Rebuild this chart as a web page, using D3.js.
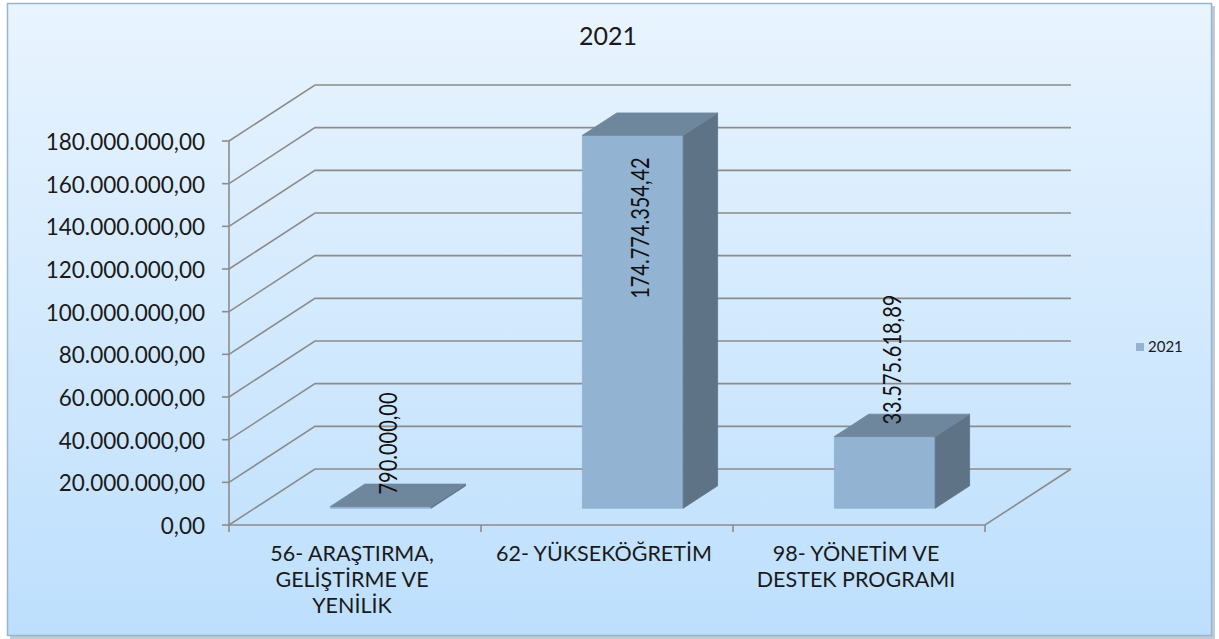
<!DOCTYPE html>
<html>
<head>
<meta charset="utf-8">
<script src="https://cdn.jsdelivr.net/npm/d3@7"></script>
<style>
  html, body { margin: 0; padding: 0; background: #ffffff; }
  svg { display: block; }
</style>
</head>
<body>
<div id="chart"></div>
<script>
// ------------------------------------------------------
// DATA
// ------------------------------------------------------

var chartTitle = "2021";
var seriesName = "2021";
var categories = [
    "56- ARAŞTIRMA,\nGELİŞTİRME VE\nYENİLİK",
    "62- YÜKSEKÖĞRETİM",
    "98- YÖNETİM VE\nDESTEK PROGRAMI"
];
var values = [790000.00, 174774354.42, 33575618.89];
var tickValues = [0, 20000000, 40000000, 60000000, 80000000, 100000000, 120000000, 140000000, 160000000, 180000000];

// ------------------------------------------------------
// LAYOUT
// ------------------------------------------------------

var W = 1219, H = 639;
var plotLeft = 229, plotRight = 985, plotBottom = 525, plotTop = 141;
var depthX = 86, depthY = -56;      // back wall offset
var barFront = 0.3, barBack = 0.7;  // bar depth as fraction of floor
var calibri = "Lato, 'Open Sans', sans-serif";

var tr = d3.formatLocale({decimal: ",", thousands: ".", grouping: [3], currency: ["", ""]});
var fmt = tr.format(",.2f");

var svg = d3.select("#chart").append("svg")
    .attr("width", W)
    .attr("height", H);

var defs = svg.append("defs");
var grad = defs.append("linearGradient")
    .attr("id", "bg")
    .attr("x1", 0).attr("y1", 0).attr("x2", 0).attr("y2", 1);
grad.append("stop").attr("offset", "0%").attr("stop-color", "#e9f4fe");
grad.append("stop").attr("offset", "100%").attr("stop-color", "#bddffd");

// frame + shadow
svg.append("rect")
    .attr("x", 10).attr("y", 6)
    .attr("width", 1205).attr("height", 633)
    .attr("fill", "#9aa9b6").attr("opacity", 0.6);
svg.append("rect")
    .attr("x", 7.5).attr("y", 3.5)
    .attr("width", 1204).attr("height", 632)
    .attr("fill", "url(#bg)")
    .attr("stroke", "#96b5cf")
    .attr("stroke-width", 1.5);

var x = d3.scaleBand().domain(categories).range([plotLeft, plotRight]);
var y = d3.scaleLinear().domain([0, 180000000]).range([plotBottom, plotTop]);

function proj(px, v, f) {
    return [px + depthX * f, y(v) + depthY * f];
}

// ------------------------------------------------------
// WALLS / GRIDLINES
// ------------------------------------------------------

var grid = svg.append("g")
    .attr("fill", "none")
    .attr("stroke", "#8c8c8c")
    .attr("stroke-width", 1.6);

tickValues.forEach(function (v) {
    var pts = [proj(plotLeft, v, 0), proj(plotLeft, v, 1), proj(plotRight, v, 1)];
    grid.append("path").attr("d", d3.line()(pts));
});

// floor front + right edge
grid.append("path").attr("d", d3.line()([proj(plotLeft, 0, 0), proj(plotRight, 0, 0), proj(plotRight, 0, 1)]));
// value axis
grid.append("path").attr("d", d3.line()([proj(plotLeft, 0, 0), proj(plotLeft, 180000000, 0)]));

// tick marks
tickValues.forEach(function (v) {
    grid.append("path").attr("d", d3.line()([[plotLeft - 7, y(v)], [plotLeft, y(v)]]));
});
var catEdges = categories.map(function (c) { return x(c); }).concat([plotRight]);
catEdges.forEach(function (e) {
    grid.append("path").attr("d", d3.line()([[e, plotBottom], [e, plotBottom + 7]]));
});

// tick labels
svg.append("g").selectAll("text")
    .data(tickValues)
    .join("text")
    .attr("x", plotLeft - 24)
    .attr("y", function (d) { return y(d) + 9; })
    .attr("text-anchor", "end")
    .attr("font-family", calibri)
    .attr("font-size", 22.5)
    .attr("fill", "#1a1a1a")
    .text(function (d) { return fmt(d); });

// category labels
var catG = svg.append("g");
categories.forEach(function (c) {
    var lines = c.split("\n");
    var t = catG.append("text")
        .attr("text-anchor", "middle")
        .attr("font-family", calibri)
        .attr("font-size", 21.5)
        .attr("fill", "#1a1a1a");
    lines.forEach(function (ln, i) {
        t.append("tspan")
            .attr("x", x(c) + x.bandwidth() / 2 - 3)
            .attr("y", 561 + i * 26)
            .text(ln);
    });
});

// ------------------------------------------------------
// BARS
// ------------------------------------------------------

var barW = x.bandwidth() * 0.4;
var bars = svg.append("g");

categories.forEach(function (c, i) {
    var v = values[i];
    var x0 = x(c) + (x.bandwidth() - barW) / 2;
    var x1 = x0 + barW;
    var fl0 = proj(x0, 0, barFront), fr0 = proj(x1, 0, barFront);
    var flT = proj(x0, v, barFront), frT = proj(x1, v, barFront);
    var brT = proj(x1, v, barBack), blT = proj(x0, v, barBack);
    var br0 = proj(x1, 0, barBack);

    bars.append("path")
        .attr("d", d3.line()([fl0, fr0, frT, flT]) + "Z")
        .attr("fill", "#93b3d3")
        .attr("stroke", "#8fb0cf").attr("stroke-width", 0.8);
    bars.append("path")
        .attr("d", d3.line()([fr0, br0, brT, frT]) + "Z")
        .attr("fill", "#5e7386")
        .attr("stroke", "#5e7386").attr("stroke-width", 0.8);
    bars.append("path")
        .attr("d", d3.line()([flT, frT, brT, blT]) + "Z")
        .attr("fill", "#6f879d")
        .attr("stroke", "#6f879d").attr("stroke-width", 0.8);
});

// data labels (rotated)
var labG = svg.append("g");
categories.forEach(function (c, i) {
    var v = values[i];
    var x0 = x(c) + (x.bandwidth() - barW) / 2;
    var frontTop = proj(x0, v, barFront);
    var cx = frontTop[0] + barW / 2;
    var t = labG.append("text")
        .attr("font-family", calibri)
        .attr("font-size", 20)
        .attr("fill", "#111")
        .attr("dominant-baseline", "central")
        .text(fmt(v));
    var len = t.node().getComputedTextLength();
    var yStart = frontTop[1] - 12;
    var anchor = "start";
    if (yStart - len < plotTop + depthY) {
        // does not fit above the bar: put it inside, near the top
        yStart = frontTop[1] + 22;
        anchor = "end";
    }
    t.attr("text-anchor", anchor)
        .attr("transform", "translate(" + (cx + 7) + "," + yStart + ") rotate(-90) scale(1,1.25)");
});

// ------------------------------------------------------
// TITLE + LEGEND
// ------------------------------------------------------

svg.append("text")
    .attr("x", 608)
    .attr("y", 45)
    .attr("text-anchor", "middle")
    .attr("font-family", calibri)
    .attr("font-size", 25)
    .attr("fill", "#1a1a1a")
    .text(chartTitle);

svg.append("rect")
    .attr("x", 1136).attr("y", 343)
    .attr("width", 8).attr("height", 8)
    .attr("fill", "#93b3d3");
svg.append("text")
    .attr("x", 1148)
    .attr("y", 352)
    .attr("font-family", calibri)
    .attr("font-size", 15)
    .attr("fill", "#1a1a1a")
    .text(seriesName);
</script>
</body>
</html>
